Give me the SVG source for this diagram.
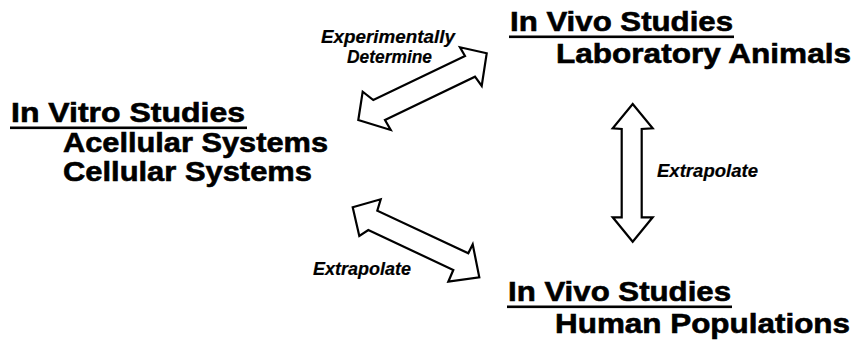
<svg xmlns="http://www.w3.org/2000/svg" width="856" height="346" viewBox="0 0 856 346">
<style>
.h{font-family:"Liberation Sans",Arial,Helvetica,sans-serif;font-weight:bold;font-size:28px;fill:#000;stroke:#000;stroke-width:0.6}
.l{font-family:"Liberation Sans",Arial,Helvetica,sans-serif;font-weight:bold;font-style:italic;font-size:19px;fill:#000;stroke:#000;stroke-width:0.2}
.ul{fill:#000}
.arrow{fill:#fff;stroke:#000;stroke-width:2.2;stroke-linejoin:miter}
</style>
<rect width="856" height="346" fill="#fff"/>
<g id="invitro">
<text class="h" x="11" y="122" textLength="234" lengthAdjust="spacingAndGlyphs">In Vitro Studies</text>
<rect class="ul" x="10" y="126.5" width="237" height="2.6"/>
<text class="h" x="63" y="152" textLength="265" lengthAdjust="spacingAndGlyphs">Acellular Systems</text>
<text class="h" x="63" y="181" textLength="249" lengthAdjust="spacingAndGlyphs">Cellular Systems</text>
</g>
<g id="invivo-animals">
<text class="h" x="510" y="31" textLength="223" lengthAdjust="spacingAndGlyphs">In Vivo Studies</text>
<rect class="ul" x="509" y="35.5" width="225" height="2.6"/>
<text class="h" x="556" y="63" textLength="295" lengthAdjust="spacingAndGlyphs">Laboratory Animals</text>
</g>
<g id="invivo-humans">
<text class="h" x="508" y="301" textLength="223" lengthAdjust="spacingAndGlyphs">In Vivo Studies</text>
<rect class="ul" x="507" y="305.5" width="225" height="2.6"/>
<text class="h" x="555" y="333" textLength="295" lengthAdjust="spacingAndGlyphs">Human Populations</text>
</g>
<g id="connectors">
<polygon class="arrow" points="486.7,53.3 460,47.3 465,56 373.3,100 362.7,91.7 358.3,120 390.7,130 385,120 475,76.7 481.7,86"/>
<polygon class="arrow" points="352.7,207.3 380.7,199.3 377.3,210.7 468.3,253.3 472.7,244.3 479.3,277.3 448.3,281.7 453.3,270 368.3,230 359.3,236"/>
<polygon class="arrow" points="632.7,104 652.7,128.3 641.7,129 641.7,217.3 652.7,217.3 632.7,241.7 612.7,217.3 621.7,217.3 621.7,129 612.7,128.3"/>
<text class="l" x="321" y="43" textLength="134" lengthAdjust="spacingAndGlyphs">Experimentally</text>
<text class="l" x="347" y="63" textLength="85" lengthAdjust="spacingAndGlyphs">Determine</text>
<text class="l" x="657" y="177" textLength="101" lengthAdjust="spacingAndGlyphs">Extrapolate</text>
<text class="l" x="313" y="275" textLength="98" lengthAdjust="spacingAndGlyphs">Extrapolate</text>
</g>
</svg>
